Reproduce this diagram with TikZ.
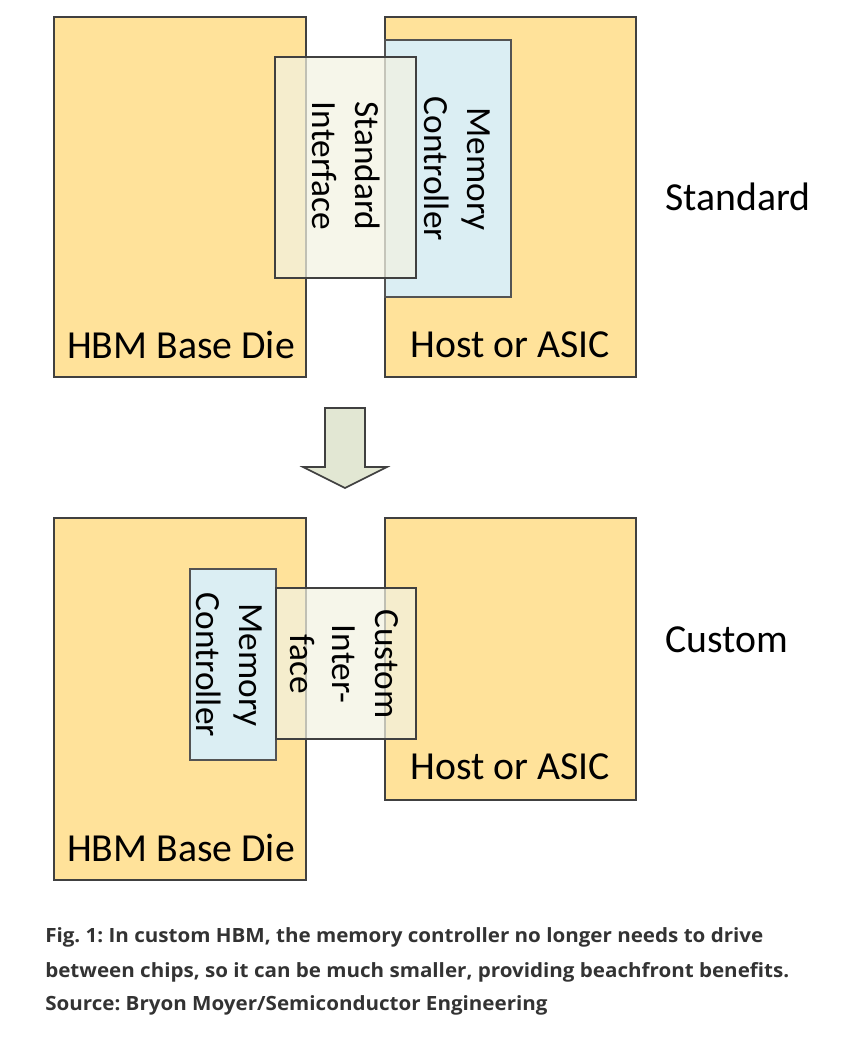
\documentclass[tikz,border=0pt]{standalone}
\usepackage{fontspec}
\setmainfont{Carlito}
\newfontfamily\capfont[FakeStretch=1.05]{Open Sans}
\usetikzlibrary{fit}
\definecolor{chip}{HTML}{FFE29A}
\definecolor{mcblue}{HTML}{DBEEF3}
\definecolor{iface}{HTML}{F2F2E2}
\definecolor{edge}{HTML}{404040}
\definecolor{arrowfill}{HTML}{E2E7D3}
\definecolor{captext}{HTML}{333333}
\frenchspacing
\begin{document}
\begin{tikzpicture}[x=0.75pt,y=-0.75pt,
  chipbox/.style={draw=edge, line width=1pt, fill=chip, inner sep=0pt},
  mcbox/.style={draw=edge!90, line width=1pt, fill=mcblue, inner sep=0pt},
  ifbox/.style={draw=edge, line width=1pt, fill=iface, fill opacity=0.72, inner sep=0pt},
  biglabel/.style={font=\fontsize{29.8}{35}\selectfont, inner sep=0pt},
  rotlabel/.style={font=\fontsize{26.5}{32}\selectfont, rotate=-90, align=center, inner sep=0pt},
  sidelabel/.style={font=\fontsize{29.8}{35}\selectfont, inner sep=0pt},
  caption/.style={anchor=base west, font=\capfont\bfseries\fontsize{14.7}{17}\selectfont, text=captext, inner sep=0pt}
]
\useasboundingbox (0,0) rectangle (864,1038);

% ---------- Standard ----------
\node[chipbox, fit={(54,17)(306,377)}] (hbmA) {};
\node[chipbox, fit={(385,17)(636,377)}] (hostA) {};
\node[mcbox, fit={(385,40)(511,297)}] (mcA) {};
\node[ifbox, fit={(275,57)(416,278)}] (ifA) {};
\node[biglabel] (hbmAlbl) at (181,345) {HBM Base Die};
\node[biglabel] (hostAlbl) at (510,345) {Host or ASIC};
\node[rotlabel] (mcAlbl) at (457,169) {Memory\\Controller};
\node[rotlabel] (ifAlbl) at (346,166) {Standard\\Interface};
\node[sidelabel] (stdlbl) at (738,197) {Standard};

% ---------- Arrow ----------
\draw[draw=edge, line width=1.2pt, fill=arrowfill, line join=miter]
  (325,408) -- (365,408) -- (365,467) -- (387,467) -- (345,488) -- (303,467) -- (325,467) -- cycle;

% ---------- Custom ----------
\node[chipbox, fit={(54,518)(306,880)}] (hbmB) {};
\node[chipbox, fit={(385,518)(636,800)}] (hostB) {};
\node[mcbox, fit={(190,569)(276,760)}] (mcB) {};
\node[ifbox, fit={(276,588)(416,739)}] (ifB) {};
\node[biglabel] (hbmBlbl) at (181,848) {HBM Base Die};
\node[biglabel] (hostBlbl) at (510,767) {Host or ASIC};
\node[rotlabel] (mcBlbl) at (229,665) {Memory\\Controller};
\node[rotlabel] (ifBlbl) at (344,664) {Custom\\Inter-\\face};
\node[sidelabel] (cuslbl) at (727,640) {Custom};

% ---------- Caption ----------
\node[caption] (cap1) at (45,942) {Fig. 1: In custom HBM, the memory controller no longer needs to drive};
\node[caption] (cap2) at (45,977) {between chips, so it can be much smaller, providing beachfront benefits.};
\node[caption] (cap3) at (45,1010) {Source: Bryon Moyer/Semiconductor Engineering};
\end{tikzpicture}
\end{document}
